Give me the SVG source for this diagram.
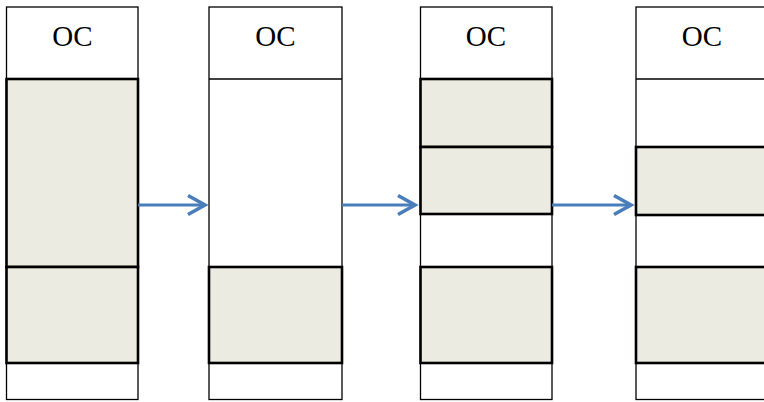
<svg xmlns="http://www.w3.org/2000/svg" width="764" height="402" viewBox="0 0 764 402">
  <style>
    .frame { fill: #ffffff; stroke: #000000; stroke-width: 1.3; }
    .block { fill: #ecebe1; stroke: #000000; stroke-width: 2.6; }
    .label { font-family: "Liberation Serif", "Times New Roman", serif; font-size: 29px; fill: #000000; text-anchor: middle; }
    .arrow { fill: none; stroke: #4a7ebb; stroke-width: 3; }
  </style>
  <defs>
    <marker id="chevron" viewBox="-22 -12 26 24" refX="0" refY="0" markerWidth="26" markerHeight="24" markerUnits="userSpaceOnUse" orient="auto">
      <path d="M-17,-9.5 L0,0 L-17,9.5" fill="none" stroke="#4a7ebb" stroke-width="3.6" stroke-linejoin="miter"/>
    </marker>
  </defs>

  <!-- stage 1 -->
  <g id="stage1">
    <rect class="frame" x="6.5" y="7" width="131.5" height="392.5"/>
    <line x1="6.5" y1="79" x2="138" y2="79" stroke="#000" stroke-width="1.3"/>
    <text class="label" x="72.5" y="46">OC</text>
    <rect class="block" x="6.5" y="79" width="131.5" height="188"/>
    <rect class="block" x="6.5" y="267" width="131.5" height="96"/>
  </g>

  <!-- stage 2 -->
  <g id="stage2">
    <rect class="frame" x="209" y="7" width="133" height="392.5"/>
    <line x1="209" y1="79" x2="342" y2="79" stroke="#000" stroke-width="1.3"/>
    <text class="label" x="275.5" y="46">OC</text>
    <rect class="block" x="209" y="267" width="133" height="96"/>
  </g>

  <!-- stage 3 -->
  <g id="stage3">
    <rect class="frame" x="420.5" y="7" width="131.5" height="392.5"/>
    <text class="label" x="486" y="46">OC</text>
    <rect class="block" x="420.5" y="79" width="131.5" height="68"/>
    <rect class="block" x="420.5" y="147" width="131.5" height="67"/>
    <rect class="block" x="420.5" y="267" width="131.5" height="96"/>
  </g>

  <!-- stage 4 -->
  <g id="stage4">
    <rect class="frame" x="636" y="7" width="132" height="392.5"/>
    <line x1="636" y1="79" x2="768" y2="79" stroke="#000" stroke-width="1.3"/>
    <text class="label" x="702" y="46">OC</text>
    <rect class="block" x="636" y="147" width="132" height="68"/>
    <rect class="block" x="636" y="267" width="132" height="96"/>
  </g>

  <!-- transitions -->
  <g id="connectors">
    <path class="arrow" d="M138,205 H205" marker-end="url(#chevron)"/>
    <path class="arrow" d="M342,205 H415" marker-end="url(#chevron)"/>
    <path class="arrow" d="M552,205 H631" marker-end="url(#chevron)"/>
  </g>
</svg>
